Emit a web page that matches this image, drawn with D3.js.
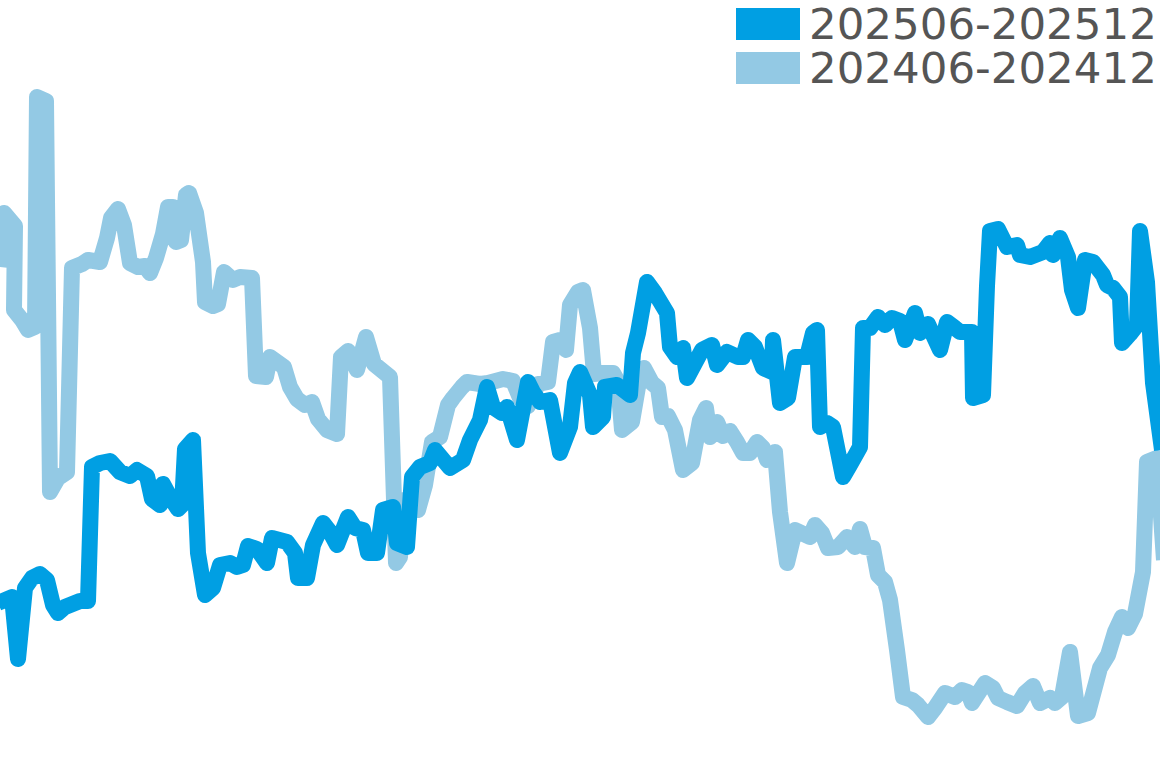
<!DOCTYPE html>
<html>
<head>
<meta charset="utf-8">
<script src="https://cdn.jsdelivr.net/npm/d3@7"></script>
<style>
  body { margin: 0; background: #fff; }
  svg { display: block; }
</style>
</head>
<body>
<svg class="mysvg"></svg>
<script>
// series names (legend order) and colours
const seriesNames = ["202506-202512", "202406-202412"];
const seriesColors = ["#009fe3", "#93c9e4"];

// [t, value] points, 2025 period
const period2025 = [
  [-0.2, 19.7], [1.2, 20.3], [1.8, 14.1], [2.5, 21.2], [3.2, 22.2], [4.0, 22.6], [4.7, 22.0],
  [5.3, 19.5], [5.8, 18.7], [6.5, 19.3], [7.0, 19.5], [8.0, 19.9], [8.8, 19.9], [9.2, 33.3],
  [10.0, 33.7], [11.0, 33.9], [12.0, 32.8], [13.0, 32.4], [13.7, 33.0], [14.7, 32.4], [15.2, 30.1],
  [16.0, 29.5], [16.3, 31.6], [17.0, 30.3], [17.8, 29.1], [18.2, 29.5], [18.5, 35.1], [19.3, 36.0],
  [19.8, 24.7], [20.5, 20.5], [21.3, 21.2], [22.0, 23.5], [23.0, 23.7], [23.7, 23.3], [24.3, 23.5],
  [24.8, 25.4], [25.7, 25.1], [26.7, 23.7], [27.2, 26.2], [28.7, 25.8], [29.5, 24.7], [29.8, 22.2],
  [30.7, 22.2], [31.3, 25.5], [32.3, 27.7], [33.0, 26.8], [33.7, 25.5], [34.8, 28.3], [35.5, 27.2],
  [36.3, 27.0], [36.8, 24.7], [37.7, 24.7], [38.3, 29.0], [39.3, 29.3], [39.7, 25.7], [40.7, 25.3],
  [41.2, 32.3], [42.0, 33.3], [43.0, 33.7], [43.5, 35.0], [45.0, 33.2], [46.3, 34.0], [47.0, 36.0],
  [48.0, 38.0], [48.7, 41.3], [49.3, 39.3], [50.2, 38.7], [50.7, 39.3], [51.7, 36.0], [52.8, 41.8],
  [53.3, 40.8], [54.0, 39.8], [55.0, 40.0], [56.0, 34.7], [57.0, 37.3], [57.5, 41.7], [58.0, 42.8],
  [59.0, 40.5], [59.3, 37.3], [60.3, 38.3], [60.5, 41.3], [61.7, 41.5], [63.0, 40.5], [63.3, 44.7],
  [63.8, 46.7], [64.7, 51.8], [65.5, 50.7], [66.7, 48.7], [67.0, 45.3], [67.7, 44.3], [68.3, 45.2],
  [68.7, 42.2], [69.5, 43.7], [70.2, 45.0], [71.2, 45.5], [71.7, 43.5], [72.7, 44.8], [73.8, 44.3],
  [74.3, 44.3], [74.8, 46.0], [75.5, 45.3], [76.3, 43.2], [77.2, 42.8], [77.3, 46.0], [78.0, 39.7],
  [78.8, 40.2], [79.5, 44.3], [80.7, 44.3], [81.3, 46.7], [81.7, 47.0], [82.0, 37.3], [82.7, 37.7],
  [83.3, 37.3], [84.3, 32.3], [85.0, 33.5], [86.0, 35.3], [86.3, 47.2], [87.0, 47.2], [87.8, 48.3],
  [88.5, 47.5], [89.2, 48.2], [90.0, 47.9], [90.5, 46.0], [91.5, 48.7], [92.0, 46.7], [92.8, 47.6],
  [94.0, 45.0], [94.7, 47.8], [95.5, 47.2], [96.0, 46.8], [97.2, 46.8], [97.3, 40.2], [98.3, 40.5],
  [98.7, 51.4], [99.0, 56.9], [99.8, 57.1], [100.7, 55.3], [101.7, 55.5], [102.0, 54.5], [103.0, 54.3],
  [104.3, 54.8], [105.0, 55.7], [105.3, 54.5], [106.0, 56.2], [106.8, 54.3], [107.2, 51.0], [107.8, 49.2],
  [108.5, 54.0], [109.3, 53.8], [110.3, 52.5], [110.7, 51.5], [111.3, 51.2], [112.0, 50.3], [112.2, 45.7],
  [113.0, 46.6], [113.7, 47.5], [114.0, 56.9], [114.7, 51.8], [115.3, 41.7], [116.2, 35.0]
];

// [t, value] points, 2024 period
const period2024 = [
  [-0.1, 53.3], [0.4, 58.7], [1.5, 57.4], [1.4, 49.0], [2.2, 48.0], [2.8, 47.0], [3.5, 47.3],
  [3.7, 70.3], [4.6, 69.9], [5.0, 30.8], [5.8, 32.2], [6.7, 32.8], [7.2, 53.2], [8.2, 53.6],
  [8.8, 54.0], [10.0, 53.8], [10.7, 56.2], [11.1, 58.2], [11.8, 59.1], [12.4, 57.5], [13.0, 53.7],
  [13.8, 53.3], [14.5, 53.4], [15.0, 52.7], [15.6, 54.2], [16.3, 56.6], [16.8, 59.3], [17.3, 59.3],
  [17.6, 55.8], [18.1, 56.0], [18.6, 60.5], [18.9, 60.7], [19.6, 58.7], [20.3, 53.8], [20.5, 49.8],
  [21.3, 49.4], [21.8, 49.6], [22.4, 52.8], [23.3, 52.0], [24.0, 52.3], [25.2, 52.2], [25.6, 42.4],
  [26.6, 42.3], [27.0, 44.3], [28.4, 43.3], [29.0, 41.3], [29.7, 40.1], [30.5, 39.5], [31.2, 39.8],
  [31.8, 38.1], [32.7, 37.0], [33.7, 36.6], [34.1, 44.3], [34.8, 44.9], [35.7, 43.0], [36.6, 46.3],
  [37.4, 43.6], [39.0, 42.3], [39.4, 30.0], [39.6, 23.7], [40.0, 24.3], [40.4, 30.0], [41.8, 29.0],
  [42.5, 31.5], [43.2, 35.8], [44.0, 36.3], [44.8, 39.5], [45.3, 40.2], [46.2, 41.3], [46.7, 41.8],
  [48.0, 41.6], [48.8, 41.7], [50.3, 42.1], [51.3, 41.9], [52.0, 40.2], [52.8, 39.4], [53.8, 41.6],
  [54.8, 41.8], [55.3, 45.8], [56.0, 46.0], [56.6, 45.0], [57.0, 49.5], [57.8, 50.8], [58.3, 51.0],
  [59.0, 47.2], [59.4, 42.6], [60.3, 42.7], [61.3, 42.7], [61.8, 41.8], [62.2, 37.0], [63.2, 37.8],
  [63.8, 41.3], [64.4, 43.2], [65.2, 41.7], [65.8, 41.2], [66.2, 38.3], [66.8, 38.4], [67.5, 37.0],
  [68.3, 33.0], [69.2, 33.7], [70.0, 38.0], [70.6, 39.2], [71.0, 36.3], [71.7, 37.8], [72.3, 36.4],
  [73.0, 36.9], [73.7, 35.8], [74.3, 34.7], [75.0, 34.7], [75.7, 35.8], [76.3, 35.2], [76.7, 34.0],
  [77.5, 34.8], [78.0, 28.8], [78.7, 23.7], [79.5, 27.0], [81.0, 26.3], [81.5, 27.5], [82.2, 26.7],
  [82.8, 25.2], [83.8, 25.3], [84.7, 26.3], [85.5, 25.3], [86.0, 27.1], [86.5, 25.3], [87.3, 25.2],
  [87.8, 22.5], [88.5, 21.8], [89.0, 20.0], [89.7, 15.0], [90.3, 10.3], [91.2, 10.0], [91.8, 9.5],
  [92.8, 8.3], [93.5, 9.2], [94.5, 10.7], [95.5, 10.3], [96.2, 11.0], [96.8, 10.8], [97.2, 9.7],
  [98.5, 11.7], [99.3, 11.2], [99.8, 10.2], [100.7, 9.8], [101.7, 9.4], [102.5, 10.7], [103.3, 11.4],
  [104.0, 9.7], [105.0, 10.2], [105.5, 9.7], [106.2, 10.3], [107.0, 14.8], [107.8, 8.4], [108.8, 8.7],
  [110.0, 13.2], [110.8, 14.5], [111.5, 16.8], [112.2, 18.3], [112.8, 17.2], [113.5, 18.6], [114.3, 22.8],
  [114.7, 33.8], [115.7, 34.2], [116.4, 24.0]
];

const width = 1160,
  height = 768;

const svg = d3.select(".mysvg")
  .attr("width", width)
  .attr("height", height);

const xScale = d3.scaleLinear().domain([0, 116]).range([0, width]);
const yScale = d3.scaleLinear().domain([0, 80]).range([800, 0]);

const line = d3.line()
  .x((d) => xScale(d[0]))
  .y((d) => yScale(d[1]));

// older period underneath, current period on top
const drawOrder = [
  { data: period2024, color: seriesColors[1] },
  { data: period2025, color: seriesColors[0] },
];

svg.selectAll(".series")
  .data(drawOrder)
  .enter()
  .append("path")
  .attr("class", "series")
  .attr("d", (d) => line(d.data))
  .attr("fill", "none")
  .attr("stroke", (d) => d.color)
  .attr("stroke-width", 16)
  .attr("stroke-linejoin", "round")
  .attr("stroke-linecap", "butt");

// legend
const legend = svg.append("g").attr("class", "legend");

legend.selectAll("rect")
  .data(seriesNames)
  .enter()
  .append("rect")
  .attr("x", 736)
  .attr("y", (d, i) => 8 + i * 44)
  .attr("width", 64)
  .attr("height", 32)
  .attr("fill", (d, i) => seriesColors[i]);

legend.selectAll("text")
  .data(seriesNames)
  .enter()
  .append("text")
  .attr("x", 809)
  .attr("y", (d, i) => 39 + i * 44)
  .text((d) => d)
  .style("font-family", "'DejaVu Sans', sans-serif")
  .style("font-size", "43.5px")
  .attr("fill", "#555555");
</script>
</body>
</html>
